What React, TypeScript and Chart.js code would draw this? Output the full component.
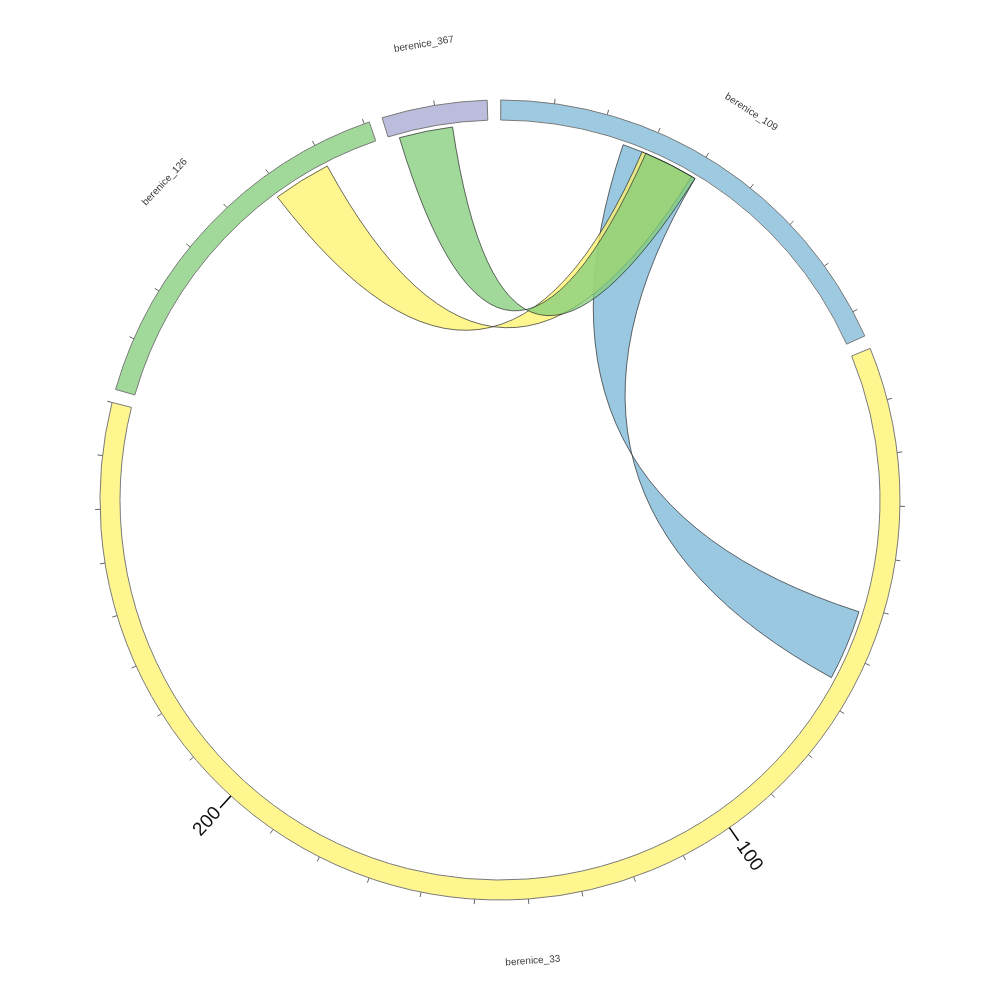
import React, { useEffect, useRef } from 'react';
import { Chart, registerables } from 'chart.js';

Chart.register(...registerables);

// ---- data ----
const sectorNames = ['berenice_109', 'berenice_33', 'berenice_126', 'berenice_367'];
const sectorLengths = [85, 280, 71, 19.8];
const sectorColors = ['#9ECAE1', '#FFF68F', '#A1D99B', '#BCBDDC'];
const gapLength = 2.51;
const tickStep = 10;
const majorTickStep = 100;

// chords: sector A range (units) <-> sector B range (units)
const chordSectorA = ['berenice_109', 'berenice_126', 'berenice_367'];
const chordRangeA = [[24.6, 40.3], [48.7, 60.3], [2.1, 12.8]];
const chordSectorB = ['berenice_33', 'berenice_109', 'berenice_109'];
const chordRangeB = [[51.2, 65.3], [28.6, 39.5], [29.4, 40.3]];
const chordColors = ['rgba(122,182,215,0.75)', 'rgba(255,243,106,0.75)', 'rgba(130,204,122,0.75)'];

const chordPlugin = {
  id: 'chordPlugin',
  afterDatasetsDraw(chart: any) {
    const meta = chart.getDatasetMeta(0);
    const ctx = chart.ctx as CanvasRenderingContext2D;
    const arcs = sectorNames.map((_, i) => meta.data[i * 2] as any);
    const cx = arcs[0].x;
    const cy = arcs[0].y;
    const R = arcs[0].outerRadius;
    const Rin = arcs[0].innerRadius;
    const rc = Rin - 4;
    const angleOf = (si: number, u: number) => {
      const a = arcs[si];
      return a.startAngle + ((a.endAngle - a.startAngle) * u) / sectorLengths[si];
    };
    const pt = (a: number, r: number) => [cx + r * Math.cos(a), cy + r * Math.sin(a)];
    // control point for a link edge: on the bisector, slightly off-centre for short links
    const ctrl = (p: number[], q: number[]) => {
      const mx = (p[0] + q[0]) / 2 - cx;
      const my = (p[1] + q[1]) / 2 - cy;
      const m = Math.hypot(mx, my) || 1;
      const c = Math.hypot(p[0] - q[0], p[1] - q[1]);
      const d = Math.max(0, 0.11 * rc - 0.07 * c);
      return [cx + (mx / m) * d, cy + (my / m) * d];
    };

    // ribbons
    ctx.save();
    for (let k = 0; k < chordSectorA.length; k++) {
      const sa = sectorNames.indexOf(chordSectorA[k]);
      const sb = sectorNames.indexOf(chordSectorB[k]);
      const a1 = angleOf(sa, chordRangeA[k][0]);
      const a2 = angleOf(sa, chordRangeA[k][1]);
      const b1 = angleOf(sb, chordRangeB[k][0]);
      const b2 = angleOf(sb, chordRangeB[k][1]);
      const pa1 = pt(a1, rc);
      const pa2 = pt(a2, rc);
      const pb1 = pt(b1, rc);
      const pb2 = pt(b2, rc);
      const c1 = ctrl(pa2, pb2);
      const c2 = ctrl(pb1, pa1);
      ctx.beginPath();
      ctx.moveTo(pa1[0], pa1[1]);
      ctx.arc(cx, cy, rc, a1, a2, false);
      ctx.quadraticCurveTo(c1[0], c1[1], pb2[0], pb2[1]);
      ctx.arc(cx, cy, rc, b2, b1, true);
      ctx.quadraticCurveTo(c2[0], c2[1], pa1[0], pa1[1]);
      ctx.closePath();
      ctx.fillStyle = chordColors[k];
      ctx.fill();
      ctx.lineWidth = 0.7;
      ctx.strokeStyle = 'rgba(20,20,20,0.9)';
      ctx.stroke();
    }
    ctx.restore();

    // ticks
    ctx.save();
    for (let si = 0; si < sectorNames.length; si++) {
      for (let u = tickStep; u <= sectorLengths[si] + 1e-9; u += tickStep) {
        const a = angleOf(si, u);
        const major = u % majorTickStep === 0;
        const len = major ? 16 : 5;
        const p0 = pt(a, R);
        const p1 = pt(a, R + len);
        ctx.beginPath();
        ctx.moveTo(p0[0], p0[1]);
        ctx.lineTo(p1[0], p1[1]);
        ctx.lineWidth = major ? 1.5 : 1;
        ctx.strokeStyle = major ? '#000' : '#666';
        ctx.stroke();
        if (major) {
          const r0 = R + 19;
          ctx.save();
          ctx.translate(cx, cy);
          ctx.font = '19px "Liberation Sans", Arial, sans-serif';
          ctx.fillStyle = '#111';
          ctx.textBaseline = 'middle';
          if (Math.cos(a) >= 0) {
            ctx.rotate(a);
            ctx.textAlign = 'left';
            ctx.fillText(String(u), r0, 0);
          } else {
            ctx.rotate(a + Math.PI);
            ctx.textAlign = 'right';
            ctx.fillText(String(u), -r0, 0);
          }
          ctx.restore();
        }
      }
    }
    ctx.restore();

    // sector labels
    ctx.save();
    ctx.font = '10px "Liberation Sans", Arial, sans-serif';
    ctx.fillStyle = '#3a3a3a';
    ctx.textAlign = 'center';
    ctx.textBaseline = 'middle';
    for (let si = 0; si < sectorNames.length; si++) {
      const a = (arcs[si].startAngle + arcs[si].endAngle) / 2;
      const p = pt(a, R + 62);
      ctx.save();
      ctx.translate(p[0], p[1]);
      if (Math.sin(a) <= 0) ctx.rotate(a + Math.PI / 2);
      else ctx.rotate(a - Math.PI / 2);
      ctx.fillText(sectorNames[si], 0, 0);
      ctx.restore();
    }
    ctx.restore();
  },
};

export default function App() {
  const canvasRef = useRef<HTMLCanvasElement | null>(null);

  useEffect(() => {
    if (!canvasRef.current) return;
    const values: number[] = [];
    const bg: string[] = [];
    const bc: string[] = [];
    const bw: number[] = [];
    const labels: string[] = [];
    sectorLengths.forEach((len, i) => {
      values.push(len);
      bg.push(sectorColors[i]);
      bc.push('#7a7a7a');
      bw.push(1);
      labels.push(sectorNames[i]);
      values.push(gapLength);
      bg.push('rgba(0,0,0,0)');
      bc.push('rgba(0,0,0,0)');
      bw.push(0);
      labels.push('');
    });
    const chart = new Chart(canvasRef.current, {
      type: 'doughnut',
      data: {
        labels,
        datasets: [
          {
            data: values,
            backgroundColor: bg,
            borderColor: bc,
            borderWidth: bw,
            borderJoinStyle: 'miter',
          } as any,
        ],
      },
      options: {
        responsive: false,
        animation: false,
        rotation: 0.1,
        radius: 400,
        cutout: '95%',
        layout: { padding: 0 },
        plugins: {
          legend: { display: false },
          tooltip: { enabled: false },
        },
        events: [],
      } as any,
      plugins: [chordPlugin],
    });
    return () => chart.destroy();
  }, []);

  return (
    <div style={{ position: 'absolute', left: 0, top: 0, width: 1000, height: 1000, background: '#fff' }}>
      <canvas ref={canvasRef} width={1000} height={1000} style={{ width: 1000, height: 1000, display: 'block' }} />
    </div>
  );
}
